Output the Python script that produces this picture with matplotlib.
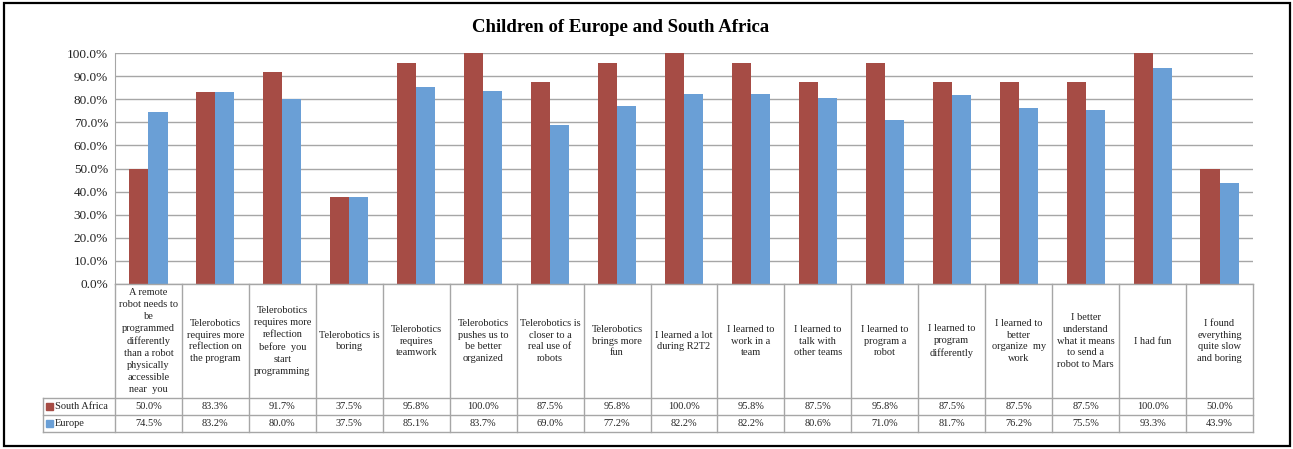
import matplotlib.pyplot as plt
import numpy as np
from matplotlib.patches import Rectangle
from matplotlib.transforms import blended_transform_factory
from matplotlib.ticker import PercentFormatter

plt.rcParams['font.family'] = 'Liberation Serif'

categories = [
    "A remote\nrobot needs to\nbe\nprogrammed\ndifferently\nthan a robot\nphysically\naccessible\nnear  you",
    "Telerobotics\nrequires more\nreflection on\nthe program",
    "Telerobotics\nrequires more\nreflection\nbefore  you\nstart\nprogramming",
    "Telerobotics is\nboring",
    "Telerobotics\nrequires\nteamwork",
    "Telerobotics\npushes us to\nbe better\norganized",
    "Telerobotics is\ncloser to a\nreal use of\nrobots",
    "Telerobotics\nbrings more\nfun",
    "I learned a lot\nduring R2T2",
    "I learned to\nwork in a\nteam",
    "I learned to\ntalk with\nother teams",
    "I learned to\nprogram a\nrobot",
    "I learned to\nprogram\ndifferently",
    "I learned to\nbetter\norganize  my\nwork",
    "I better\nunderstand\nwhat it means\nto send a\nrobot to Mars",
    "I had fun",
    "I found\neverything\nquite slow\nand boring",
]
south_africa = [50.0, 83.3, 91.7, 37.5, 95.8, 100.0, 87.5, 95.8, 100.0,
                95.8, 87.5, 95.8, 87.5, 87.5, 87.5, 100.0, 50.0]
europe = [74.5, 83.2, 80.0, 37.5, 85.1, 83.7, 69.0, 77.2, 82.2,
          82.2, 80.6, 71.0, 81.7, 76.2, 75.5, 93.3, 43.9]
series = [("South Africa", south_africa, '#A64C45'),
          ("Europe", europe, '#6A9FD6')]

W, H = 1293, 449
fig = plt.figure(figsize=(W / 100, H / 100), dpi=100)

def fx(px):
    return px / W

def fy(py):
    return (H - py) / H

# plot area in pixels
left, right, top, bottom = 115, 1253, 53, 284
ax = fig.add_axes([fx(left), fy(bottom), fx(right - left), (bottom - top) / H])

n = len(categories)
x = np.arange(n)
bw = 0.285
ax.bar(x - bw / 2, south_africa, bw, color=series[0][2], zorder=3)
ax.bar(x + bw / 2, europe, bw, color=series[1][2], zorder=3)

ax.set_xlim(-0.5, n - 0.5)
ax.set_ylim(0, 100)
ax.set_yticks(np.arange(0, 101, 10))
ax.yaxis.set_major_formatter(PercentFormatter(decimals=1))
ax.tick_params(axis='y', labelsize=9.5, length=0, pad=5, labelcolor='#222222')
ax.set_xticks([])
ax.grid(axis='y', color='#A6A6A6', linewidth=1, zorder=0)
for s in ['top', 'right', 'bottom']:
    ax.spines[s].set_visible(False)
ax.spines['left'].set_color('#A6A6A6')

# data table under the plot
tr = blended_transform_factory(ax.transData, fig.transFigure)
trf = fig.transFigure
grid_c = '#A6A6A6'
row_y = [bottom, 398, 415, 432]
leg_left = 43

def hline(py, x0, x1):
    fig.add_artist(plt.Line2D([fx(x0), fx(x1)], [fy(py), fy(py)],
                              transform=trf, color=grid_c, lw=1))

def vline(px, y0, y1):
    fig.add_artist(plt.Line2D([fx(px), fx(px)], [fy(y0), fy(y1)],
                              transform=trf, color=grid_c, lw=1))

hline(bottom, left, right)
for py in row_y[1:]:
    hline(py, leg_left, right)
for i in range(n + 1):
    vline(left + i * (right - left) / n, bottom, row_y[-1])
vline(leg_left, row_y[1], row_y[-1])

for i, cat in enumerate(categories):
    fig.text(i, fy((row_y[0] + row_y[1]) / 2), cat, transform=tr,
             ha='center', va='center', fontsize=7.5, linespacing=1.42,
             color='#222222')

for r, (name, vals, col) in enumerate(series):
    yc = fy((row_y[r + 1] + row_y[r + 2]) / 2)
    for i, v in enumerate(vals):
        fig.text(i, yc, f"{v:.1f}%", transform=tr, ha='center', va='center',
                 fontsize=7.5, color='#222222')
    fig.add_artist(Rectangle((fx(leg_left + 3), yc - 3.5 / H), 7 / W, 7 / H,
                             transform=trf, color=col))
    fig.text(fx(leg_left + 12), yc, name, ha='left', va='center',
             fontsize=7.5, color='#222222')

fig.text(fx(621), fy(28), "Children of Europe and South Africa",
         ha='center', va='center', fontsize=13.5, fontweight='bold')

# outer frame
fig.add_artist(Rectangle((fx(4), fy(446)), fx(1286), 443 / H, transform=trf,
                         fill=False, edgecolor='black', lw=1.6))

fig.savefig('out.png', dpi=100)
